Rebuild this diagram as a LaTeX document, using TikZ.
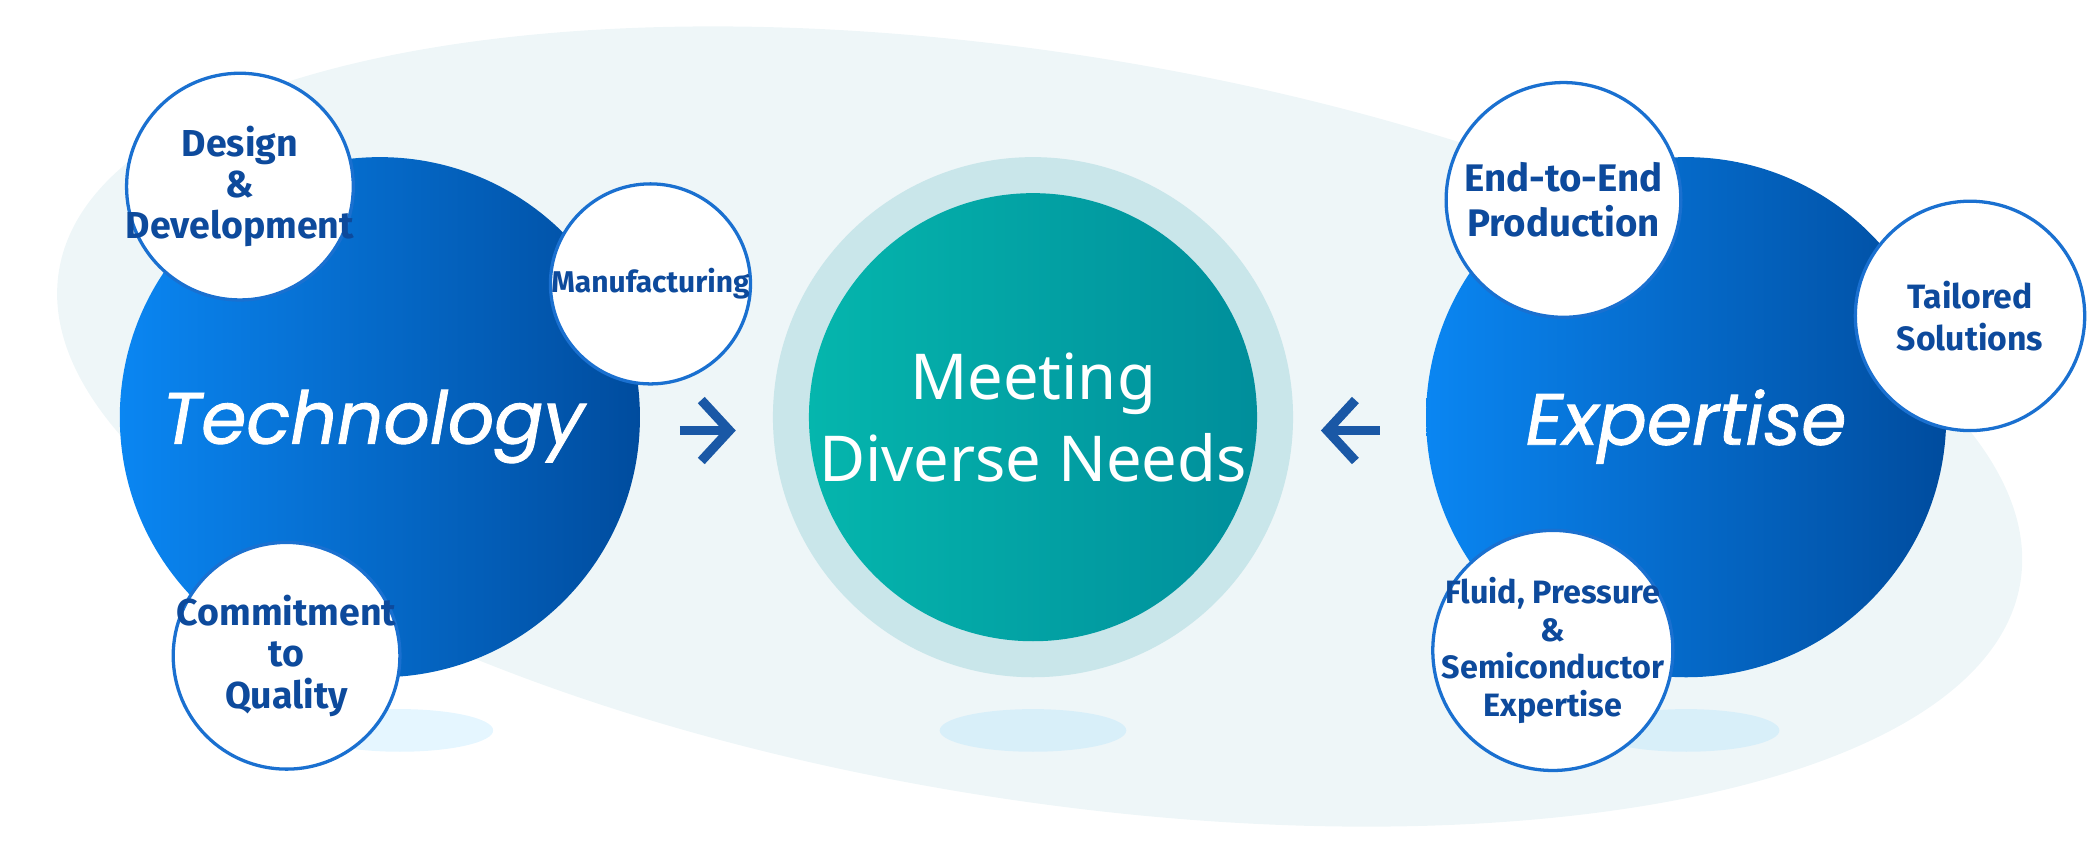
\documentclass[tikz,border=0pt]{standalone}
\usepackage{fontspec}
\setmainfont{Noto Sans}
\newfontfamily\popit{Poppins}[FakeBold=1.2]
\newfontfamily\smf{Fira Sans}
\usetikzlibrary{arrows.meta}
\definecolor{bgc}{HTML}{EEF6F8}
\definecolor{blueL}{HTML}{0A86F2}
\definecolor{blueR}{HTML}{004C9E}
\definecolor{tealL}{HTML}{05B6AD}
\definecolor{tealR}{HTML}{008E9B}
\definecolor{ringc}{HTML}{C9E6EA}
\definecolor{txtb}{HTML}{0D4A9C}
\definecolor{bord}{HTML}{1A70D0}
\definecolor{arr}{HTML}{1A58A6}
\begin{document}
\begin{tikzpicture}[x=0.01cm,y=-0.01cm,
 big/.style={circle,minimum size=3.9cm,left color=blueL,right color=blueR,inner sep=0},
 small/.style={circle,draw=bord,line width=0.7pt,fill=white,inner sep=0},
 stxt/.style={align=center,text=txtb,font=\smf\bfseries\fontsize{8}{8.8}\selectfont,inner sep=0},
 shad/.style={fill=blue!35!cyan!40,opacity=0.25}]
\useasboundingbox (0,0) rectangle (1568,634);
\fill[bgc,rotate around={-9:(780,320)}] (780,320) ellipse [x radius=745,y radius=280];
\foreach \x in {300,775,1265}{\fill[shad] (\x,548) ellipse [x radius=70,y radius=16];}
\node[big] (tech) at (285,313) {};
\node[text=white,font=\popit\itshape\fontsize{15.5}{18}\selectfont] (techt) at (280,320) {Technology};
\node[circle,fill=ringc,minimum size=3.9cm,inner sep=0] (ring) at (775,313) {};
\node[circle,minimum size=3.36cm,inner sep=0,left color=tealL,right color=tealR] (meet) at (775,313) {};
\node[align=center,text=white,font=\fontsize{13.5}{17.5}\selectfont] (meett) at (775,313) {Meeting\\Diverse Needs};
\node[big] (exp) at (1265,313) {};
\node[text=white,font=\popit\itshape\fontsize{15.5}{18}\selectfont] (expt) at (1265,320) {Expertise};
\node[small,minimum size=1.7cm] (dd) at (180,140) {};
\node[stxt] (ddt) at (dd) {Design\\\&\\Development};
\node[small,minimum size=1.5cm] (man) at (488,213) {};
\node[stxt,font=\smf\bfseries\fontsize{6.4}{8}\selectfont] (mant) at (man) {Manufacturing};
\node[small,minimum size=1.7cm] (cq) at (215,492) {};
\node[stxt] (cqt) at (cq) {Commitment\\to\\Quality};
\node[small,minimum size=1.76cm] (ee) at (1173,150) {};
\node[stxt,font=\smf\bfseries\fontsize{8.2}{9.6}\selectfont] (eet) at (ee) {End-to-End\\Production};
\node[small,minimum size=1.72cm] (ts) at (1478,237) {};
\node[stxt,font=\smf\bfseries\fontsize{7.2}{9}\selectfont] (tst) at (ts) {Tailored\\Solutions};
\node[small,minimum size=1.8cm] (fp) at (1165,488) {};
\node[stxt,font=\smf\bfseries\fontsize{6.9}{8}\selectfont] (fpt) at (fp) {Fluid, Pressure\\\&\\Semiconductor\\Expertise};
\coordinate (a1s) at (510,323); \coordinate (a1e) at (552,323);
\coordinate (a2s) at (1035,323); \coordinate (a2e) at (991,323);
\draw[arr,line width=2pt,-{Straight Barb[length=6pt,width=13pt,line width=2pt]}] (a1s) -- (a1e);
\draw[arr,line width=2pt,-{Straight Barb[length=6pt,width=13pt,line width=2pt]}] (a2s) -- (a2e);
\end{tikzpicture}
\end{document}
